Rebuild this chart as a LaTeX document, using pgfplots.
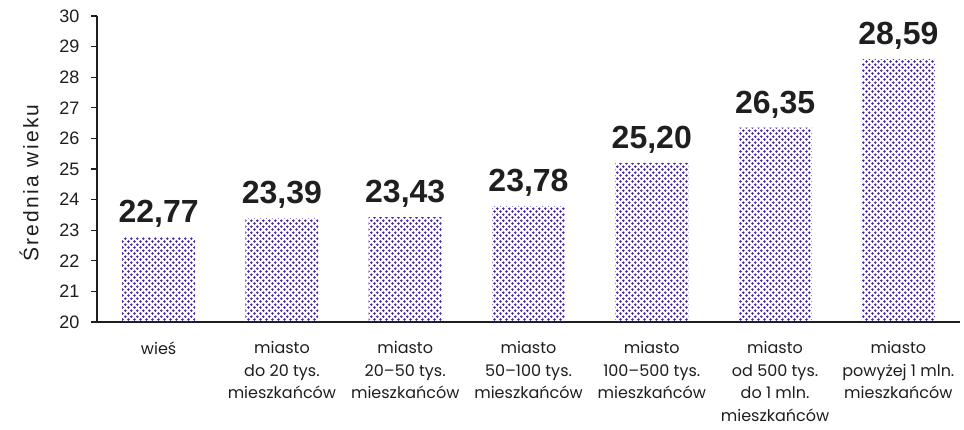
\documentclass[border=0pt]{standalone}
\usepackage{fontspec}
\setmainfont{Liberation Sans}
\newfontfamily\catfont{Poppins}
\newfontfamily\ylfont[LetterSpace=11]{Liberation Sans}
\usepackage{pgfplots}
\pgfplotsset{compat=1.18}
\usetikzlibrary{patterns}
\definecolor{dotcol}{RGB}{70,40,158}
\definecolor{axcol}{RGB}{30,30,30}
\pgfdeclarepatternformonly{bigdots}{\pgfqpoint{0pt}{0pt}}{\pgfqpoint{6.4pt}{6.4pt}}{\pgfqpoint{6.4pt}{6.4pt}}{%
  \pgfpathcircle{\pgfqpoint{1.6pt}{1.6pt}}{1.45pt}%
  \pgfpathcircle{\pgfqpoint{4.8pt}{4.8pt}}{1.45pt}%
  \pgfusepath{fill}}
\begin{document}
\begin{tikzpicture}
\useasboundingbox (-97pt,-107pt) rectangle (867pt,322pt);
\begin{axis}[
  scale only axis,
  width=863pt, height=306pt,
  xmin=-0.5, xmax=6.5,
  ymin=20, ymax=30,
  ytick={20,21,...,30},
  xtick=data,
  xticklabels={wieś, miasto\\do 20 tys.\\mieszkańców, miasto\\20–50 tys.\\mieszkańców, miasto\\50–100 tys.\\mieszkańców, miasto\\100–500 tys.\\mieszkańców, miasto\\od 500 tys.\\do 1 mln.\\mieszkańców, miasto\\powyżej 1 mln.\\mieszkańców},
  xticklabel style={align=center, font=\catfont\fontsize{16}{22.5}\selectfont, yshift=-10pt, text=axcol},
  yticklabel style={font=\fontsize{18}{20}\selectfont, text=axcol, xshift=-8pt},
  /pgf/number format/assume math mode=true,
  axis x line=bottom, axis y line=left,
  axis line style={axcol, line width=1.4pt, -},
  x axis line style={-},
  y axis line style={-},
  tick style={axcol, line width=1.2pt},
  major tick length=6pt,
  tick align=outside,
  xtick style={draw=none},
  ylabel={Średnia wieku},
  ylabel style={font=\ylfont\fontsize{21}{24}\selectfont, text=axcol, yshift=14pt, xshift=-14pt},
  ybar,
  bar width=73pt,
  nodes near coords,
  nodes near coords style={font=\bfseries\fontsize{32}{36}\selectfont, text=black!88, yshift=6pt,
    /pgf/number format/.cd, fixed, fixed zerofill, precision=2, use comma, assume math mode=true},
]
\addplot[draw=none, pattern=bigdots, pattern color=dotcol] coordinates {
 (0,22.77) (1,23.39) (2,23.43) (3,23.78) (4,25.20) (5,26.35) (6,28.59)};
\end{axis}
\end{tikzpicture}
\end{document}
